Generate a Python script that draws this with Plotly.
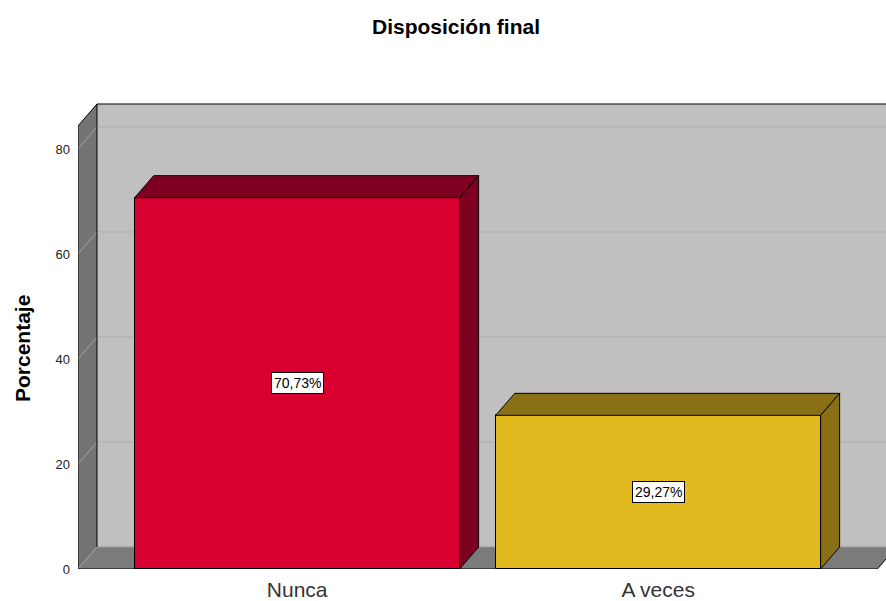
import plotly.graph_objects as go

# ---- data ----
categories = ["Nunca", "A veces"]
values = [70.73, 29.27]
labels = ["70,73%", "29,27%"]
front_colors = ["#d7002f", "#e1ba1f"]
dark_colors = ["#7e0020", "#8a7014"]
tick_vals = [0, 20, 40, 60, 80]

# ---- 3D geometry (in axis units) ----
BAR_W = 0.9
DX = 0.0526        # depth offset in x units
DY = 4.19          # depth offset in y units
X0, XR = -0.607, 1.607   # front floor left/right
XMAX = 1.631
WALL_TOP = 84.38   # front top of the walls
YMAX = 89.33

fig = go.Figure()

shapes = []
def poly(pts, fill, line="black", width=1, layer="below"):
    path = "M " + " L ".join(f"{x},{y}" for x, y in pts) + " Z"
    shapes.append(dict(type="path", path=path, xref="x", yref="y",
                       fillcolor=fill, line=dict(color=line, width=width), layer=layer))
def seg(x0, y0, x1, y1, color, width=1, layer="below"):
    shapes.append(dict(type="line", x0=x0, y0=y0, x1=x1, y1=y1, xref="x", yref="y",
                       line=dict(color=color, width=width), layer=layer))

# back wall
poly([(X0 + DX, DY), (X0 + DX, WALL_TOP + DY), (XMAX + 0.1, WALL_TOP + DY), (XMAX + 0.1, DY)],
     "#c0c0c0", line="rgba(0,0,0,0)", width=0)
# floor
poly([(X0, 0), (X0 + DX, DY), (XR + DX, DY), (XR, 0)], "#7b7b7b", line="rgba(0,0,0,0)", width=0)
# left wall
poly([(X0, 0), (X0, WALL_TOP), (X0 + DX, WALL_TOP + DY), (X0 + DX, DY)], "#747474",
     line="rgba(0,0,0,0)", width=0)
# gridlines
for v in tick_vals[1:]:
    seg(X0 + DX, v + DY, XMAX + 0.1, v + DY, "#adadad")
    seg(X0, v, X0 + DX, v + DY, "#a4a4a4")
seg(X0, 0, X0 + DX, DY, "#a4a4a4")
seg(X0 + DX, DY, XMAX + 0.1, DY, "#9a9a9a")
# outlines
seg(X0, 0, X0, WALL_TOP, "black")
seg(X0, WALL_TOP, X0 + DX, WALL_TOP + DY, "black")
seg(X0 + DX, WALL_TOP + DY, XMAX + 0.1, WALL_TOP + DY, "black")
seg(X0 + DX, DY, X0 + DX, WALL_TOP + DY, "black")
seg(X0, 0, XR, 0, "black")
seg(XR, 0, XR + DX, DY, "black")

# bars (front faces)
xs = list(range(len(categories)))
fig.add_trace(go.Bar(x=xs, y=values, width=BAR_W, marker=dict(color=front_colors,
              line=dict(color="black", width=1)), hoverinfo="skip", showlegend=False))

# top and side faces
for i, v in enumerate(values):
    xl, xr = i - BAR_W / 2, i + BAR_W / 2
    poly([(xl, v), (xl + DX, v + DY), (xr + DX, v + DY), (xr, v)], dark_colors[i], layer="above")
    poly([(xr, 0), (xr, v), (xr + DX, v + DY), (xr + DX, DY)], dark_colors[i], layer="above")

annotations = []
for i, v in enumerate(values):
    annotations.append(dict(x=i, y=v / 2, xref="x", yref="y", text=labels[i], showarrow=False,
                            bgcolor="white", bordercolor="black", borderwidth=1, borderpad=2,
                            font=dict(family="Liberation Sans, Arial", size=14, color="black")))
annotations.append(dict(x=(22 - 78) / 808, y=(569 - 348) / 469, xref="paper", yref="paper",
                        text="<b>Porcentaje</b>", textangle=-90, showarrow=False,
                        xanchor="center", yanchor="middle",
                        font=dict(family="Liberation Sans, Arial", size=21, color="black")))

fig.update_layout(
    width=886, height=601,
    margin=dict(l=78, r=0, t=100, b=32),
    paper_bgcolor="white", plot_bgcolor="white",
    title=dict(text="<b>Disposición final</b>", x=456 / 886, xanchor="center",
               y=1 - 27 / 601, yanchor="middle",
               font=dict(family="Liberation Sans, Arial", size=21, color="black")),
    xaxis=dict(range=[X0, XMAX], tickvals=xs, ticktext=categories, showgrid=False,
               zeroline=False, showline=False, ticks="", ticklabelstandoff=6,
               tickfont=dict(family="Liberation Sans, Arial", size=21, color="#333")),
    yaxis=dict(range=[0, YMAX], tickvals=tick_vals, showgrid=False, zeroline=False,
               showline=False, ticks="", ticklabelstandoff=7,
               tickfont=dict(family="Liberation Sans, Arial", size=13, color="#222")),
    shapes=shapes, annotations=annotations, bargap=0,
)

fig.write_html("out.html")
